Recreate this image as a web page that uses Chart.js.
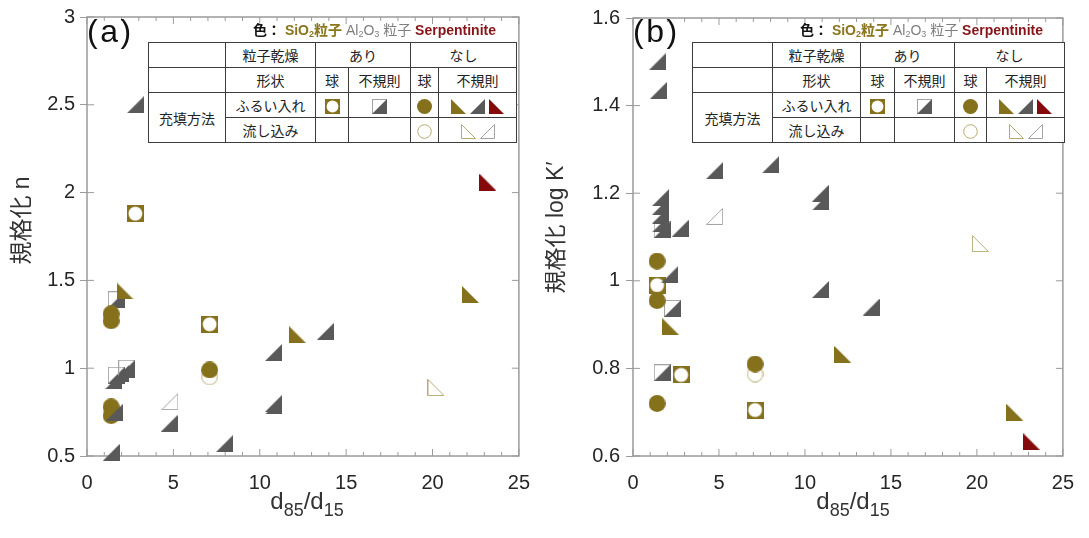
<!DOCTYPE html>
<html>
<head>
<meta charset="utf-8">
<script src="https://cdn.jsdelivr.net/npm/chart.js@4.4.1/dist/chart.umd.min.js"></script>
<style>
  html, body { margin: 0; padding: 0; background: #fff; }
  #page { position: relative; width: 1089px; height: 538px; overflow: hidden;
          font-family: 'Liberation Sans', Arial, sans-serif; }
  .plot { position: absolute; top: 0; }
  .tag { position: absolute; top: 15px; font-size: 32px; line-height: 32px; letter-spacing: 2.5px; color: #111; }
  .colours { position: absolute; top: 22px; font-family: 'Liberation Sans', 'Noto Sans CJK JP', sans-serif;
             font-size: 14px; line-height: 17px; font-weight: bold; white-space: nowrap; color: #111; }
  .colours sub { font-size: 9px; line-height: 0; vertical-align: -2px; }
  .colours .si { color: #8a761d; }
  .colours .al { color: #7f7f7f; font-weight: normal; }
  .colours .sp { color: #861418; }
  .key { position: absolute; top: 42px; border-collapse: collapse; table-layout: fixed; background: #fff;
         font-family: 'Noto Sans CJK JP', sans-serif; font-size: 14px; color: #222; }
  .key td { border: 1.4px solid #3c3c3c; padding: 0; height: 24px; line-height: 16px; text-align: center; white-space: nowrap; }
  .key canvas { vertical-align: middle; margin: 0 2px; }
  .xtitle { position: absolute; top: 488px; width: 440px; text-align: center; font-size: 24px; line-height: 26px; color: #333; }
  .xtitle sub { font-size: 18px; line-height: 0; vertical-align: -7px; }
</style>
</head>
<body>
<div id="page">
  <canvas id="chartN" class="plot" width="545" height="538" style="left:0"></canvas>
  <canvas id="chartK" class="plot" width="544" height="538" style="left:545px"></canvas>

  <div class="tag" style="left:87px">(a)</div>
  <div class="tag" style="left:633px">(b)</div>

  <div class="colours" style="left:253px">色： <span class="si">SiO<sub>2</sub>粒子</span> <span class="al">Al<sub>2</sub>O<sub>3</sub> 粒子</span> <span class="sp">Serpentinite</span></div>
  <div class="colours" style="left:800px">色： <span class="si">SiO<sub>2</sub>粒子</span> <span class="al">Al<sub>2</sub>O<sub>3</sub> 粒子</span> <span class="sp">Serpentinite</span></div>

  <table class="key" id="keyN" style="left:148px"></table>
  <table class="key" id="keyK" style="left:692px"></table>

  <div class="xtitle" style="left:87px">d<sub>85</sub>/d<sub>15</sub></div>
  <div class="xtitle" style="left:633px">d<sub>85</sub>/d<sub>15</sub></div>
</div>

<script>
// axis ticks
const xTicks = [0, 5, 10, 15, 20, 25];
const nTicks = [0.5, 1, 1.5, 2, 2.5, 3];
const kTicks = [0.6, 0.8, 1, 1.2, 1.4, 1.6];

// (a) normalised n vs d85/d15, [x, y]
const nSiO2DrySph   = [[2.8, 1.88], [7.1, 1.25]];
const nAl2O3DryIrr  = [[1.7, 1.39], [1.7, 0.96], [2.3, 1.0]];
const nSiO2Sph      = [[1.4, 1.31], [1.4, 1.27], [7.1, 0.99], [1.4, 0.78], [1.4, 0.73]];
const nSiO2Irr      = [[2.2, 1.44], [12.2, 1.19], [22.2, 1.42]];
const nAl2O3Irr     = [[2.8, 2.5], [13.8, 1.21], [10.8, 1.09], [1.55, 0.93], [1.95, 0.97], [2.3, 0.99],
                       [1.6, 0.75], [10.8, 0.8], [10.8, 0.785], [4.75, 0.685], [7.95, 0.57], [1.4, 0.52]];
const nSerpIrr      = [[23.2, 2.06]];
const nSiO2SphPour  = [[7.1, 0.95]];
const nSiO2IrrPour  = [[20.2, 0.89]];
const nAl2O3IrrPour = [[4.8, 0.81]];

// (b) normalised log K' vs d85/d15, [x, y]
const kSiO2DrySph   = [[1.4, 0.99], [2.8, 0.785], [7.1, 0.705]];
const kAl2O3DryIrr  = [[1.7, 1.117], [2.3, 0.937], [1.7, 0.79]];
const kSiO2Sph      = [[1.4, 1.045], [1.4, 0.955], [7.1, 0.81], [1.4, 0.72]];
const kSiO2Irr      = [[2.2, 0.895], [12.2, 0.832], [22.2, 0.7]];
const kAl2O3Irr     = [[1.41, 1.5], [1.49, 1.435], [1.6, 1.19], [1.6, 1.17], [1.6, 1.15], [1.6, 1.13],
                       [2.75, 1.12], [4.75, 1.252], [8.0, 1.265], [10.9, 1.2], [10.9, 1.18],
                       [2.15, 1.015], [10.9, 0.98], [13.85, 0.94]];
const kSerpIrr      = [[23.2, 0.632]];
const kSiO2SphPour  = [[7.1, 0.787]];
const kSiO2IrrPour  = [[20.2, 1.085]];
const kAl2O3IrrPour = [[4.75, 1.147]];

const OLIVE = '#85701c', GREY = '#595959', RED = '#840a0c';
const OLIVE_LINE = '#b9aa72', GREY_LINE = '#a3a3a3';
const TICK_COLOUR = '#262626';

// marker glyphs, drawn once into small canvases and used as pointStyle
function marker(kind, colour, s) {
  const c = document.createElement('canvas');
  c.width = s; c.height = s;
  const g = c.getContext('2d');
  const h = 0.5, e = s - 0.5;
  g.fillStyle = colour; g.strokeStyle = colour; g.lineWidth = 1;
  g.beginPath();
  if (kind === 'sqCircle') {
    g.fillRect(0, 0, s, s);
    g.fillStyle = '#fff';
    g.arc(s / 2, s / 2, s / 2 - 1.6, 0, Math.PI * 2);
    g.fill();
  } else if (kind === 'halfSq') {
    g.strokeStyle = GREY_LINE;
    g.strokeRect(h, h, s - 1, s - 1);
    g.moveTo(s, 0); g.lineTo(s, s); g.lineTo(0, s); g.closePath();
    g.fill();
  } else if (kind === 'dot') {
    g.arc(s / 2, s / 2, s / 2, 0, Math.PI * 2);
    g.fill();
  } else if (kind === 'ring') {
    g.arc(s / 2, s / 2, s / 2 - 0.7, 0, Math.PI * 2);
    g.stroke();
  } else if (kind === 'triL') {
    g.moveTo(0, 0); g.lineTo(0, s); g.lineTo(s, s); g.closePath();
    g.fill();
  } else if (kind === 'triR') {
    g.moveTo(s, 0); g.lineTo(s, s); g.lineTo(0, s); g.closePath();
    g.fill();
  } else if (kind === 'triLOpen') {
    g.moveTo(h, h); g.lineTo(h, e); g.lineTo(e, e); g.closePath();
    g.stroke();
  } else if (kind === 'triROpen') {
    g.moveTo(e, h); g.lineTo(e, e); g.lineTo(h, e); g.closePath();
    g.stroke();
  }
  return c;
}

// first entry is drawn on top
const series = [
  ['Al2O3 不規則 ふるい入れ', 'triR', GREY, nAl2O3Irr, kAl2O3Irr],
  ['SiO2 不規則 ふるい入れ', 'triL', OLIVE, nSiO2Irr, kSiO2Irr],
  ['Serpentinite 不規則 ふるい入れ', 'triL', RED, nSerpIrr, kSerpIrr],
  ['Al2O3 不規則 流し込み', 'triROpen', GREY_LINE, nAl2O3IrrPour, kAl2O3IrrPour],
  ['SiO2 不規則 流し込み', 'triLOpen', OLIVE_LINE, nSiO2IrrPour, kSiO2IrrPour],
  ['SiO2 球 ふるい入れ', 'dot', OLIVE, nSiO2Sph, kSiO2Sph],
  ['SiO2 球 流し込み', 'ring', OLIVE_LINE, nSiO2SphPour, kSiO2SphPour],
  ['Al2O3 乾燥 不規則 ふるい入れ', 'halfSq', GREY, nAl2O3DryIrr, kAl2O3DryIrr],
  ['SiO2 乾燥 球 ふるい入れ', 'sqCircle', OLIVE, nSiO2DrySph, kSiO2DrySph]
];

// frame with inward ticks on all four sides
const framePlugin = {
  id: 'frame',
  beforeDatasetsDraw(chart) {
    const { ctx, chartArea: a, scales: { x, y } } = chart;
    ctx.save();
    ctx.strokeStyle = '#9b9b9b';
    ctx.lineWidth = 1.5;
    ctx.strokeRect(a.left, a.top, a.right - a.left, a.bottom - a.top);
    ctx.lineWidth = 1;
    ctx.beginPath();
    for (let v = x.min; v <= x.max; v++) {
      const px = x.getPixelForValue(v);
      const len = v % 5 === 0 ? 7 : 4;
      ctx.moveTo(px, a.bottom); ctx.lineTo(px, a.bottom - len);
      ctx.moveTo(px, a.top); ctx.lineTo(px, a.top + len);
    }
    y.ticks.forEach(t => {
      const py = y.getPixelForValue(t.value);
      ctx.moveTo(a.left, py); ctx.lineTo(a.left + 7, py);
      ctx.moveTo(a.right, py); ctx.lineTo(a.right - 7, py);
    });
    ctx.stroke();
    ctx.restore();
  }
};

const tickFont = { family: "'Liberation Sans', Arial, sans-serif", size: 20 };
const titleFont = { family: "'Liberation Sans', 'Noto Sans CJK JP', sans-serif", size: 23, lineHeight: 1 };

function makeChart(id, col, yTicks, opts) {
  return new Chart(document.getElementById(id), {
    type: 'scatter',
    data: {
      datasets: series.map(s => ({
        label: s[0],
        data: s[col].map(([x, y]) => ({ x, y })),
        pointStyle: marker(s[1], s[2], 17),
        pointRadius: 9,
        clip: false
      }))
    },
    options: {
      responsive: false,
      animation: false,
      events: [],
      layout: { padding: { top: 15, right: opts.padRight, left: 0, bottom: 0 } },
      plugins: { legend: { display: false }, tooltip: { enabled: false } },
      scales: {
        x: {
          type: 'linear',
          min: xTicks[0],
          max: xTicks[xTicks.length - 1],
          afterBuildTicks: s => { s.ticks = xTicks.map(v => ({ value: v })); },
          afterFit: s => { s.height = 82; },
          grid: { display: false, drawTicks: false },
          border: { display: false },
          ticks: { padding: 15, font: tickFont, color: TICK_COLOUR, maxRotation: 0, callback: v => String(v) }
        },
        y: {
          type: 'linear',
          min: yTicks[0],
          max: yTicks[yTicks.length - 1],
          afterBuildTicks: s => { s.ticks = yTicks.map(v => ({ value: v })); },
          afterFit: s => { s.width = opts.axisWidth; },
          grid: { drawOnChartArea: false, drawTicks: true, tickLength: 7, color: '#9b9b9b' },
          border: { display: false },
          ticks: { padding: opts.tickPad, font: tickFont, color: TICK_COLOUR, callback: v => String(v) },
          title: {
            display: true,
            text: opts.title,
            font: titleFont,
            color: '#333',
            padding: { top: opts.titlePad, bottom: 0 }
          }
        }
      }
    },
    plugins: [framePlugin]
  });
}

makeChart('chartN', 3, nTicks, { padRight: 18, axisWidth: 87, tickPad: 5, titlePad: 11, title: '     規格化 n' });
makeChart('chartK', 4, kTicks, { padRight: 16, axisWidth: 88, tickPad: 6, titlePad: 0.5, title: '   規格化 log K′' });

// key table: drying / shape / filling method
function keyTable(id, widths) {
  const t = document.getElementById(id);
  t.style.width = widths.reduce((a, b) => a + b, 0) + 'px';
  const mk = (k, c) => `<span data-k="${k}" data-c="${c}"></span>`;
  t.innerHTML =
    '<colgroup>' + widths.map(w => `<col style="width:${w}px">`).join('') + '</colgroup>' +
    '<tr><td></td><td>粒子乾燥</td><td colspan="2">あり</td><td colspan="2">なし</td></tr>' +
    '<tr><td></td><td>形状</td><td>球</td><td>不規則</td><td>球</td><td>不規則</td></tr>' +
    `<tr><td rowspan="2">充填方法</td><td>ふるい入れ</td><td>${mk('sqCircle', OLIVE)}</td><td>${mk('halfSq', GREY)}</td>` +
    `<td>${mk('dot', OLIVE)}</td><td>${mk('triL', OLIVE)}${mk('triR', GREY)}${mk('triL', RED)}</td></tr>` +
    `<tr><td>流し込み</td><td></td><td></td><td>${mk('ring', OLIVE_LINE)}</td>` +
    `<td>${mk('triLOpen', OLIVE_LINE)}${mk('triROpen', GREY_LINE)}</td></tr>`;
  t.querySelectorAll('span[data-k]').forEach(sp => {
    sp.replaceWith(marker(sp.dataset.k, sp.dataset.c, 15));
  });
}

keyTable('keyN', [77, 90, 33, 62, 28, 78]);
keyTable('keyK', [80, 88, 34, 60, 32, 78]);
</script>
</body>
</html>
